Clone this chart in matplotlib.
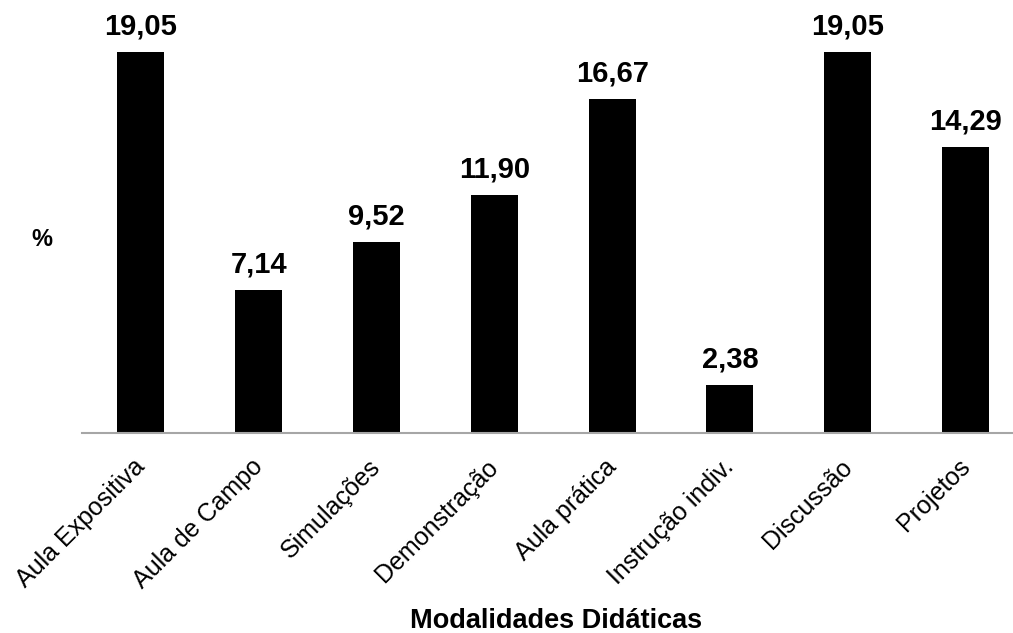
import matplotlib
matplotlib.use("Agg")
import matplotlib.pyplot as plt
from matplotlib.transforms import ScaledTranslation

categories = ["Aula Expositiva", "Aula de Campo", "Simulações", "Demonstração",
              "Aula prática", "Instrução indiv.", "Discussão", "Projetos"]
values = [19.05, 7.14, 9.52, 11.90, 16.67, 2.38, 19.05, 14.29]
value_labels = ["19,05", "7,14", "9,52", "11,90", "16,67", "2,38", "19,05", "14,29"]

plt.rcParams["font.family"] = ["Liberation Sans", "DejaVu Sans"]

fig = plt.figure(figsize=(10.13, 6.33), dpi=100)
ax = fig.add_axes([82 / 1013, 1 - 432.5 / 633, 1 - 82 / 1013, 420 / 633])

x = list(range(len(categories)))
ax.bar(x, values, width=0.4, color="black")

for xi, v, lab in zip(x, values, value_labels):
    ax.annotate(lab, (xi, v), xytext=(0, 8), textcoords="offset points",
                ha="center", va="bottom", fontsize=21, fontweight="bold")

ax.set_xlim(-0.5, 7.403)
ax.set_ylim(0, 21)
ax.set_xticks(x)
ax.set_xticklabels(categories, rotation=45, ha="right", fontsize=18)
ax.tick_params(axis="x", length=0, pad=16)
shift = ScaledTranslation(9 / 100, 0, fig.dpi_scale_trans)
for lbl in ax.get_xticklabels():
    lbl.set_transform(lbl.get_transform() + shift)
ax.set_yticks([])

for side in ("top", "right", "left"):
    ax.spines[side].set_visible(False)
ax.spines["bottom"].set_color("#a6a6a6")
ax.spines["bottom"].set_linewidth(1.5)

fig.text(42 / 1013, 1 - 240 / 633, "%", ha="center", va="center",
         fontsize=17, fontweight="bold")
fig.text(556 / 1013, 1 - 621 / 633, "Modalidades Didáticas", ha="center",
         va="center", fontsize=19.5, fontweight="bold")

fig.savefig("out.png", dpi=100)
